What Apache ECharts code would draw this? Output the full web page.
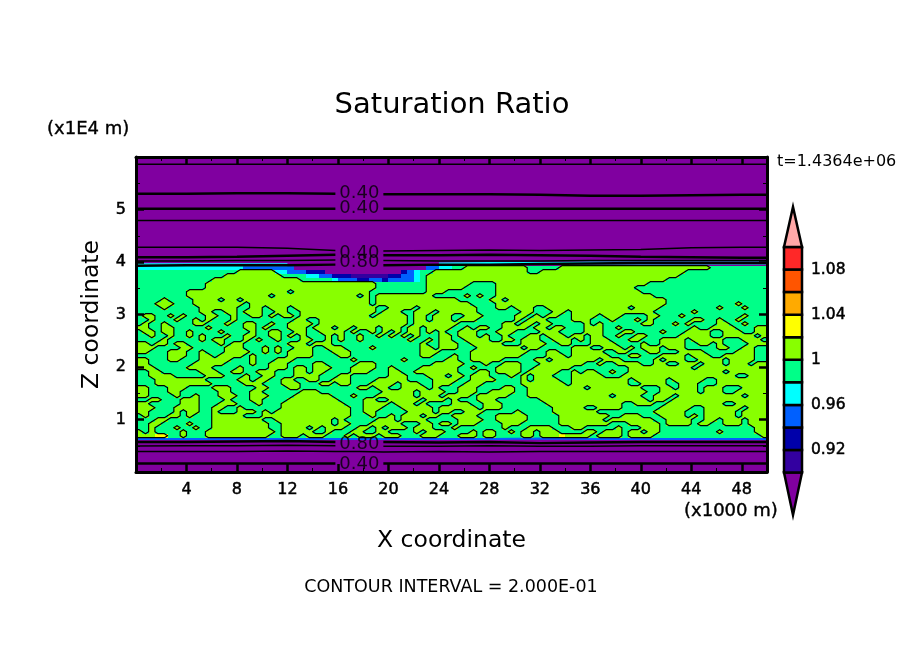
<!DOCTYPE html>
<html>
<head>
<meta charset="utf-8">
<title>Saturation Ratio</title>
<script src="https://cdn.jsdelivr.net/npm/echarts@6/dist/echarts.min.js"></script>
<style>
  html, body { margin: 0; padding: 0; background: #fff; }
  #chart { width: 904px; height: 654px; }
</style>
</head>
<body>
<div id="chart"></div>
<script>
// band of the field between the two purple layers, 0.5 km columns, top row first
// . 0.98-1   # 1-1.02   y 1.02-1.04   c cyan   b blue   n navy   i indigo   p purple
var fieldRows = [
  'cccccccccccccccccbbbbbbbbpppppppppppppppppppppbbcc..##########.....########################...........',
  '................######ccbbbnnnppppppppppppnbc..###############..#######################.............',
  '..............#########....ccbbnnniiiiiinnbbc.########################################..............',
  '............##############.....cbbbnnbbnbbbbc.######################################................',
  '...........###########################........#######....########################...................',
  '...........###########################........######.....######################.....................',
  '........################.############.........###........#######################.....................',
  '........#############.#############.#.#########.....#.#..#########################...................',
  '....#....####.##.####################.#############.....##.#########################..................',
  '...###...########.###################.###############....###########################...........#.....',
  '....#.....######..##.###.#############..####.#########...##.###..#############.####.........#...#....',
  '..........##..##.###..##..############.###..###.######.......##...##.#############......#............',
  '.##..#.#...##..#..##.#.##.###########.#####.##.###..###.....##.#.##..####.###....##...#.........#....',
  '..#...#..#.#...#.........##..##############.##.###.###......#.###....###...#...#.#......##..#..#.....',
  '.#..#....##...#..##..#..####.##############.#######.......##.##.##.....#.#......##...#.#....##..#....',
  '##..##.....#.....##.#...###.###.##.###.###.##.####..#.##..####.##.##...###..#...........#..####...##.',
  '.##.##..#....#....#..##..##..####.#..#.#.#.##.#.#..###...###....###....###...##....#...####..###..##.',
  '..#..#..#.#...#..##..##.#.#...#.#..#..#.#.#.#...##.###.#..#...##.###.##.##..#..##.....#####..#####.#',
  '....#.....#.##...#.#..#...##..#.#..#.......#..#.##..####..##.###..###.#.###...##...####.#####...###..',
  '##.##.##.....#.##.......###.###..............#..###..#####...####..##...####....#..####..##.#....###.',
  '###....##.....###...#.#..###..###....#.......##.###...#######.##.....###..###.#.###.###.....##..##..',
  '##...###..#...####..#.#.####...###...........###.....#########...##..#####..##...##...####.....###..#',
  '.....###..##.####.#.....####....##...........##...#..########....###.######...##...####.###..#####...',
  '##...##...#####...#...###.........#.......#......##..#####.....##.#######.###.....#.###..####.####..#',
  '##.......#####....#..###....##.....###.........#####...#..###...#######..#..####..##..###.###.###.##.',
  '###.....####....#....###.##.###...####..#....######..#...####..######.........##########.###########',
  '..##......###..##..###...##.##....###...##..#######...##.####.#####..#.##..#..###############.#######',
  '..####.....###...#..##...####...##......###...###.##.###...#.#.###...#####...##################..####',
  '...########.....##.##..##..##..###....#####....####..####....#.####..#########.#####.#####..#########',
  '...#########.....###...###...##.##...####.###..###..###......#######.#########..####..###...########',
  '##...###....###....##...##.........##.##..####.#...###....##..#########.########...##.###.###...#####',
  '##...##......##...##......###..........#####.####..###..####..###################..######.###..######',
  '##....#..#...###..###....######...#...######.###.####.#####...#############.####..###.##########.####',
  '..##...###....#...##....########....##..#####.###.#...###.......#################.##.#################',
  '##.....###...###...#...##########...####.###.#....###..###.......############..###..#########..#####.',
  '###...####..##..#......###########..###...#####.######.###........#####..####......#####..######.####',
  '##....#.##..#...###.#.############..##.....####.##..###.....#.....#######.........#####...#####.#####',
  '.#...##.#...#####...##############...#..#.###.##..####...#####.....########..###...####.#.#####.#####',
  '...##.......########..#########.#.....###.####.....####..#####.....#######.#######..####..##.###.####',
  '..##....#...#########..########.##...#####...##.##.###....###......########...#####.####.##..###.####',
  '..#...#..#..#########..####.#.###..##.#.###.###...#.......#...####...##.....#...###...............###',
  '#.#....#...###########.#####..#...##..##....#.###....#.##..#.##.###....##.###.##.##.........#.....###',
  '###yy..#...##########..###.###...#.###.###...###...###.##....##.###y####.####.####.................##'
];
var fieldZTop = 3.93;
var fieldRowDz = 0.0762;
var fieldColDx = 0.5;

// field colours, same order as colour bar boxes
var levelColors = { i: '#3300a0', n: '#0000aa', b: '#0060ff', c: '#00ffff', '.': '#00ff88', '#': '#88ff00', y: '#ffff00', p: '#8000a0' };

// contour lines read along these x stations, null where a label breaks the line
var contourX = [0, 4, 8, 12, 15.8, 17.7, 19.6, 24, 28, 32, 36, 40, 44, 48, 50];
var contourThin = [
  [5.86, 5.86, 5.86, 5.86, 5.86, 5.86, 5.86, 5.86, 5.86, 5.86, 5.86, 5.86, 5.86, 5.86, 5.86],
  [4.79, 4.79, 4.79, 4.79, 4.79, 4.79, 4.79, 4.79, 4.79, 4.79, 4.79, 4.79, 4.79, 4.79, 4.79],
  [4.28, 4.28, 4.28, 4.26, 4.22, null, 4.21, 4.22, 4.23, 4.22, 4.23, 4.24, 4.27, 4.28, 4.28],
  [4.02, 4.02, 4.03, 4.03, 4.04, null, 4.03, 4.02, 4.02, 4.02, 4.03, 4.03, 4.03, 4.03, 4.03],
  [0.495, 0.5, 0.5, 0.51, 0.5, null, 0.49, 0.49, 0.5, 0.49, 0.49, 0.5, 0.5, 0.5, 0.5],
  [0.39, 0.39, 0.39, 0.4, 0.39, 0.39, 0.38, 0.39, 0.38, 0.39, 0.39, 0.39, 0.39, 0.39, 0.39]
];
var contourThick = [
  [5.3, 5.3, 5.31, 5.31, 5.3, null, 5.29, 5.29, 5.29, 5.28, 5.26, 5.26, 5.27, 5.28, 5.28],
  [5.015, 5.015, 5.015, 5.015, 5.015, null, 5.015, 5.015, 5.015, 5.015, 5.015, 5.015, 5.015, 5.015, 5.015],
  [4.09, 4.09, 4.1, 4.12, 4.14, null, 4.13, 4.13, 4.14, 4.13, 4.12, 4.1, 4.09, 4.08, 4.08],
  [3.93, 3.94, 3.94, 3.94, 3.95, null, 3.94, 3.95, 3.95, 3.96, 3.97, 3.98, 3.98, 3.98, 3.98],
  [0.57, 0.57, 0.58, 0.59, 0.57, null, 0.57, 0.56, 0.57, 0.55, 0.56, 0.57, 0.57, 0.57, 0.57],
  [0.16, 0.16, 0.16, 0.16, 0.16, null, 0.16, 0.16, 0.16, 0.16, 0.16, 0.16, 0.16, 0.16, 0.16]
];

// thin coloured fringes along the top and bottom of the band
var fringeTop = [3.95, 3.95, 3.95, 3.95, null, null, null, 3.96, 3.97, 3.97, 3.98, 3.98, 3.98, 3.98, 3.98];
var fringeBottom = [0.63, 0.63, 0.63, 0.63, 0.63, 0.63, 0.63, 0.63, 0.63, 0.64, 0.63, 0.63, 0.63, 0.63, 0.63];

var contourLabels = [
  [17.7, 5.31, '0.40'],
  [17.7, 5.02, '0.40'],
  [17.7, 4.17, '0.40'],
  [17.7, 4.0, '0.80'],
  [17.7, 0.53, '0.80'],
  [17.7, 0.15, '0.40']
];

// colour bar
var barEdges = [0.9, 0.92, 0.94, 0.96, 0.98, 1, 1.02, 1.04, 1.06, 1.08, 1.1];
var barColors = ['#3300a0', '#0000aa', '#0060ff', '#00ffff', '#00ff88', '#88ff00', '#ffff00', '#ffaa00', '#ff5500', '#ff2828'];
var barLabels = [0.92, 0.96, 1, 1.04, 1.08];
var barTipLow = 0.8624;
var barTipHigh = 1.1354;
var barTipLowColor = '#8000a0';
var barTipHighColor = '#ffa8a8';

var FONT = 'DejaVu Sans';

function buildCells() {
  var cells = [];
  fieldRows.forEach(function (row, r) {
    for (var c = 0; c < 100; c++) {
      var ch = row.charAt(c) || '.';
      if (ch !== 'p') cells.push([c * fieldColDx, fieldZTop - r * fieldRowDz, ch]);
    }
  });
  return cells;
}

// level 1 line: marching squares over the cell centres, lime and yellow count as inside
function inside(r, c) {
  if (r < 0 || r >= fieldRows.length) return false;
  var row = fieldRows[r];
  var k = Math.max(0, Math.min(99, c));
  var ch = row.charAt(k) || '.';
  return ch === '#' || ch === 'y';
}

function buildLevelLine() {
  var out = [];
  function pt(c, r) {
    return [c * fieldColDx, fieldZTop - r * fieldRowDz];
  }
  for (var r = -1; r < fieldRows.length; r++) {
    for (var c = -1; c < 100; c++) {
      var a = inside(r, c), b = inside(r, c + 1), d = inside(r + 1, c + 1), e = inside(r + 1, c);
      var hits = [];
      if (a !== b) hits.push(pt(c + 1, r + 0.5));
      if (b !== d) hits.push(pt(c + 1.5, r + 1));
      if (d !== e) hits.push(pt(c + 1, r + 1.5));
      if (e !== a) hits.push(pt(c + 0.5, r + 1));
      if (hits.length === 2) {
        out.push(hits[0], hits[1], ['-', '-']);
      } else if (hits.length === 4) {
        out.push(hits[0], hits[3], ['-', '-'], hits[1], hits[2], ['-', '-']);
      }
    }
  }
  return out;
}

function stationLine(zs, width, color) {
  return {
    type: 'line',
    xAxisIndex: 0,
    yAxisIndex: 0,
    data: contourX.map(function (x, i) { return [x, zs[i] === null ? '-' : zs[i]]; }),
    showSymbol: false,
    silent: true,
    z: 3,
    lineStyle: { color: color, width: width }
  };
}

function renderCell(params, api) {
  var p0 = api.coord([api.value(0), api.value(1)]);
  var p1 = api.coord([api.value(0) + fieldColDx, api.value(1) - fieldRowDz]);
  var x0 = Math.round(p0[0]), y0 = Math.round(p0[1]);
  return {
    type: 'rect',
    shape: { x: x0, y: y0, width: Math.round(p1[0]) - x0, height: Math.round(p1[1]) - y0 },
    style: { fill: levelColors[fieldCells[params.dataIndex][2]] }
  };
}

function renderBar(params, api) {
  var from = api.value(0), to = api.value(1), color = barBoxes[params.dataIndex][2];
  var pts;
  if (from === barTipLow) {
    pts = [[0.5, from], [1, to], [0, to]];
  } else if (to === barTipHigh) {
    pts = [[0, from], [1, from], [0.5, to]];
  } else {
    pts = [[0, from], [1, from], [1, to], [0, to]];
  }
  return {
    type: 'polygon',
    shape: { points: pts.map(function (p) { return api.coord(p); }) },
    style: { fill: color, stroke: '#000', lineWidth: 2.5 }
  };
}

var fieldCells = buildCells();

var barBoxes = [[barTipLow, barEdges[0], barTipLowColor]];
barColors.forEach(function (color, i) {
  barBoxes.push([barEdges[i], barEdges[i + 1], color]);
});
barBoxes.push([barEdges[barEdges.length - 1], barTipHigh, barTipHighColor]);

function frameAxis(extra) {
  var base = {
    type: 'value',
    gridIndex: 0,
    z: 10,
    splitLine: { show: false },
    axisLine: { show: true, onZero: false, lineStyle: { color: '#000', width: 3 } },
    axisTick: { show: true, inside: true, length: 8, lineStyle: { color: '#000', width: 2.5 } },
    minorTick: { show: true, splitNumber: 2, length: 4, lineStyle: { color: '#000', width: 1 } },
    axisLabel: { show: false }
  };
  return Object.assign(base, extra);
}

var tickLabel = { show: true, color: '#000', fontFamily: FONT, fontSize: 16, textBorderColor: '#000', textBorderWidth: 0.5, margin: 10, showMinLabel: false, showMaxLabel: false };

var chart = echarts.init(document.getElementById('chart'));

var series = [
  {
    type: 'custom',
    name: 'field',
    xAxisIndex: 0,
    yAxisIndex: 0,
    renderItem: renderCell,
    data: fieldCells.map(function (d) { return [d[0], d[1]]; }),
    encode: { x: 0, y: 1 },
    silent: true,
    z: 1
  },
  stationLine(fringeTop, 3, '#00ffff'),
  stationLine(fringeBottom, 2, '#0060ff'),
  {
    type: 'line',
    name: 'level 1',
    xAxisIndex: 0,
    yAxisIndex: 0,
    data: buildLevelLine(),
    showSymbol: false,
    silent: true,
    z: 4,
    lineStyle: { color: '#000', width: 1.2, cap: 'round' }
  }
];
contourThin.forEach(function (zs) { series.push(stationLine(zs, 1.5, '#000')); });
contourThick.forEach(function (zs) { series.push(stationLine(zs, 2.5, '#000')); });
series.push({
  type: 'scatter',
  name: 'contour labels',
  xAxisIndex: 0,
  yAxisIndex: 0,
  symbolSize: 0,
  data: contourLabels,
  silent: true,
  z: 5,
  label: {
    show: true,
    position: 'inside',
    formatter: function (p) { return p.value[2]; },
    color: '#000',
    fontFamily: FONT,
    fontSize: 18
  }
});
series.push({
  type: 'custom',
  name: 'colour bar',
  xAxisIndex: 2,
  yAxisIndex: 2,
  renderItem: renderBar,
  data: barBoxes.map(function (b) { return [b[0], b[1]]; }),
  encode: { y: [0, 1] },
  silent: true,
  z: 3
});

chart.setOption({
  animation: false,
  backgroundColor: '#fff',
  title: {
    text: 'Saturation Ratio',
    left: 'center',
    top: 86,
    textStyle: { color: '#000', fontFamily: FONT, fontSize: 29, fontWeight: 'normal' }
  },
  grid: [
    { left: 136, right: 137, top: 157, bottom: 182, show: true, borderWidth: 0, backgroundColor: '#8000a0' },
    { left: 784, width: 18, top: 207, bottom: 139, show: false }
  ],
  xAxis: [
    frameAxis({
      position: 'bottom', min: 0, max: 50, interval: 4,
      axisLabel: tickLabel,
      name: 'X coordinate', nameLocation: 'middle', nameGap: 57,
      nameTextStyle: { color: '#000', fontFamily: FONT, fontSize: 23.5 }
    }),
    frameAxis({ position: 'top', min: 0, max: 50, interval: 4 }),
    { type: 'value', gridIndex: 1, min: 0, max: 1, show: false }
  ],
  yAxis: [
    frameAxis({
      position: 'left', min: 0, max: 6, interval: 1,
      axisLabel: tickLabel,
      name: 'Z coordinate', nameLocation: 'middle', nameGap: 32,
      nameTextStyle: { color: '#000', fontFamily: FONT, fontSize: 23.5 }
    }),
    frameAxis({ position: 'right', min: 0, max: 6, interval: 1 }),
    {
      type: 'value',
      gridIndex: 1,
      position: 'right',
      min: barTipLow,
      max: barTipHigh,
      splitLine: { show: false },
      axisLine: { show: false },
      axisTick: { show: false },
      axisLabel: {
        show: true,
        customValues: barLabels,
        color: '#000',
        fontFamily: FONT,
        fontSize: 15.5,
        textBorderColor: '#000',
        textBorderWidth: 0.5,
        margin: 9,
        formatter: function (v) { return String(v); }
      }
    }
  ],
  graphic: [
    { type: 'text', x: 47, y: 129, style: { text: '(x1E4 m)', fill: '#000', stroke: '#000', lineWidth: 0.4, font: '18px "DejaVu Sans"', textVerticalAlign: 'middle' } },
    { type: 'text', x: 684, y: 511, style: { text: '(x1000 m)', fill: '#000', stroke: '#000', lineWidth: 0.4, font: '18px "DejaVu Sans"', textVerticalAlign: 'middle' } },
    { type: 'text', x: 777, y: 162, style: { text: 't=1.4364e+06', fill: '#000', font: '16px "DejaVu Sans"', textVerticalAlign: 'middle' } },
    { type: 'text', x: 451, y: 587, style: { text: 'CONTOUR INTERVAL = 2.000E-01', fill: '#000', font: '17.5px "DejaVu Sans"', textAlign: 'center', textVerticalAlign: 'middle' } }
  ],
  series: series
});
</script>
</body>
</html>
